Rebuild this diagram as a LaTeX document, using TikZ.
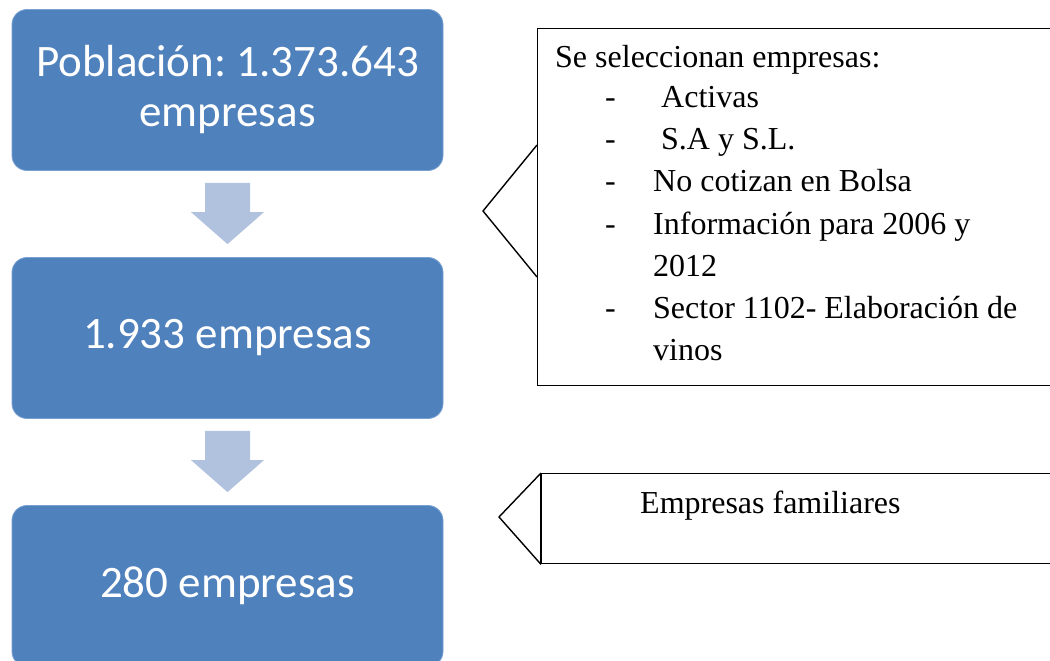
\documentclass[tikz,border=0pt]{standalone}
\usepackage{fontspec}
\setmainfont{Liberation Serif}
\newfontfamily\boxfont{Carlito}
\usetikzlibrary{calc}
\frenchspacing

\definecolor{stageblue}{RGB}{79,129,189}
\definecolor{stageedge}{RGB}{120,160,210}
\definecolor{flowarrow}{RGB}{176,194,222}

\tikzset{
  stage/.style={rectangle, rounded corners=15pt, fill=stageblue, draw=stageedge,
    line width=0.8pt, text=white, align=center, minimum width=431pt,
    minimum height=161pt, inner sep=0pt,
    font=\boxfont\fontsize{45}{50}\selectfont},
  callbox/.style={rectangle, draw=black, line width=1.4pt, fill=white,
    inner sep=0pt, anchor=north west},
  pointer/.style={draw=black, line width=1.4pt, line join=miter},
  note/.style={anchor=base west, inner sep=0pt, font=\fontsize{32}{42}\selectfont},
}

% downward block arrow between two stacked stages
\newcommand\flowstep[2]{%
  \fill[flowarrow]
    ($(#1.south)+(-22.5,12)$) -- ($(#1.south)+(22.5,12)$) --
    ($(#2.north)+(22.5,-45)$) -- ($(#2.north)+(36.5,-45)$) --
    ($(#2.north)+(0,-13)$) --
    ($(#2.north)+(-36.5,-45)$) -- ($(#2.north)+(-22.5,-45)$) -- cycle;}

\begin{document}
\begin{tikzpicture}[x=1pt,y=-1pt]
\useasboundingbox (0,0) rectangle (1050,661);

% stages of the sample
\node[stage] (s1) at (227.5,90) {Población: 1.373.643\\empresas};
\node[stage] (s2) at (227.5,338) {1.933 empresas};
\node[stage] (s3) at (227.5,586) {280 empresas};

\flowstep{s1}{s2}
\flowstep{s2}{s3}

% selection criteria callout
\node[callbox, minimum width=530pt, minimum height=357pt] (c1) at (537,28) {};
\coordinate (c1tip) at (483,211);
\draw[pointer] ($(c1.north west)+(0,117)$) -- (c1tip) -- ($(c1.north west)+(0,249)$);

\node[note] (t0) at (555,68) {Se seleccionan empresas:};
\node[note] (d1) at (605,107) {-};
\node[note] (t1) at (653,107) {\ Activas};
\node[note] (d2) at (605,149) {-};
\node[note] (t2) at (653,149) {\ S.A y S.L.};
\node[note] (d3) at (605,191) {-};
\node[note] (t3) at (653,191) {No cotizan en Bolsa};
\node[note] (d4) at (605,234) {-};
\node[note] (t4) at (653,234) {Información para 2006 y};
\node[note] (t4b) at (653,276) {2012};
\node[note] (d5) at (605,318) {-};
\node[note] (t5) at (653,318) {Sector 1102- Elaboración de};
\node[note] (t5b) at (653,360) {vinos};

% family firms callout
\node[callbox, minimum width=526pt, minimum height=90pt] (c2) at (541,473) {};
\coordinate (c2tip) at (499,517);
\draw[pointer] (c2.north west) -- (c2tip) -- (c2.south west);
\draw[line width=2.6pt] (c2.north west) -- (c2.south west);
\node[note] (t6) at (640,513) {Empresas familiares};

\end{tikzpicture}
\end{document}
